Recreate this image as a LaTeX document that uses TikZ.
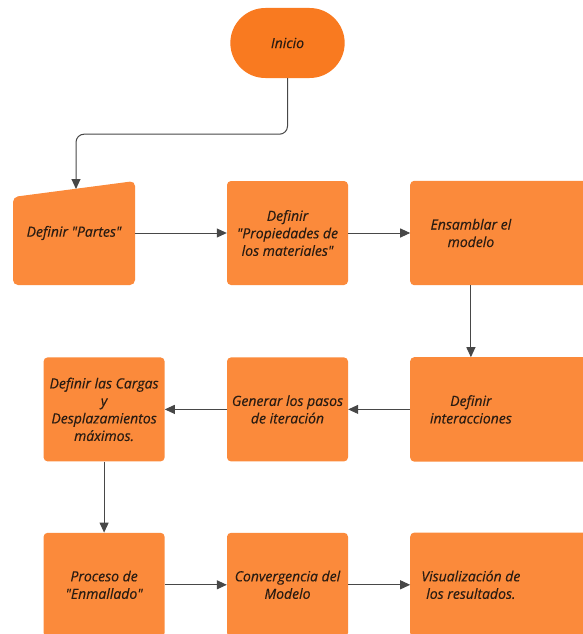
\documentclass[tikz,border=0pt]{standalone}
\usepackage{fontspec}
\setmainfont{Open Sans}[Ligatures=TeXOff,FakeBold=0.3]
\usepackage{tikz}
\usetikzlibrary{
  positioning,
  shapes.misc,
  arrows.meta,
  backgrounds
}
\definecolor{startorange}{HTML}{F97A20}
\definecolor{boxorange}{HTML}{FB8A3B}
\definecolor{inkdark}{HTML}{2A1C12}
\definecolor{linegray}{HTML}{474747}

\tikzset{
  stepbox/.style={fill=boxorange, rounded corners=4pt, minimum width=121pt,
    minimum height=104pt, align=center, text=inkdark, inner sep=1pt,
    font=\itshape\fontsize{14}{17.5}\selectfont},
  edgebox/.style={stepbox, fill=none},
  startbox/.style={rounded rectangle, fill=startorange, minimum width=121pt,
    minimum height=70pt, text=inkdark, font=\itshape\fontsize{14}{17.5}\selectfont},
  flow/.style={->, draw=linegray, line width=1pt}
}

\begin{document}
\begin{tikzpicture}[x=1pt,y=-1pt,>={Triangle[length=10pt,width=9pt]}]
        \useasboundingbox (0,0) rectangle (582,634);
        % inicio
        \node[startbox] (inicio) at (287.5,43) {Inicio};
        % first row
        \fill[boxorange,rounded corners=5pt] (13,197) -- (135,181) -- (135,285) -- (13,285) -- cycle;
        \node[edgebox] (partes) at (74,233) {Definir "Partes"};
        \coordinate (partestop) at (76,189);
        \node[stepbox] (propiedades) at (287.5,233) {Definir\\"Propiedades de\\los materiales"};
        \node[edgebox,right=62pt of propiedades] (ensamblar) {Ensamblar el\\modelo};
        % second row
        \node[edgebox,below=72pt of ensamblar] (interacciones) {Definir\\interacciones};
        \node[stepbox,below=72pt of propiedades] (iteracion) {Generar los pasos\\de iteración};
        \node[stepbox,left=62pt of iteracion] (cargas) {Definir las Cargas\\y\\Desplazamientos\\máximos.};
        % third row
        \node[stepbox,below=71pt of cargas] (enmallado) {Proceso de\\"Enmallado"};
        \node[stepbox,right=62pt of enmallado] (convergencia) {Convergencia del\\Modelo};
        \node[edgebox,right=62pt of convergencia] (resultados) {Visualización de\\los resultados.};
        % right column runs off the page
        \begin{scope}[on background layer]
            \foreach \n in {ensamblar,interacciones,resultados}
                \fill[boxorange,rounded corners=4pt] (\n.north west) rectangle ([xshift=120pt]\n.south east);
        \end{scope}
        % connectors
        \draw[flow,rounded corners=8pt] (inicio.south) -- ++(0,56) -| (partestop);
        \draw[flow] (partes.east) -- (propiedades.west);
        \draw[flow] (propiedades.east) -- (ensamblar.west);
        \draw[flow] (ensamblar.south) -- (interacciones.north);
        \draw[flow] (interacciones.west) -- (iteracion.east);
        \draw[flow] (iteracion.west) -- (cargas.east);
        \draw[flow] (cargas.south) -- (enmallado.north);
        \draw[flow] (enmallado.east) -- (convergencia.west);
        \draw[flow] (convergencia.east) -- (resultados.west);
    \end{tikzpicture}
\end{document}
